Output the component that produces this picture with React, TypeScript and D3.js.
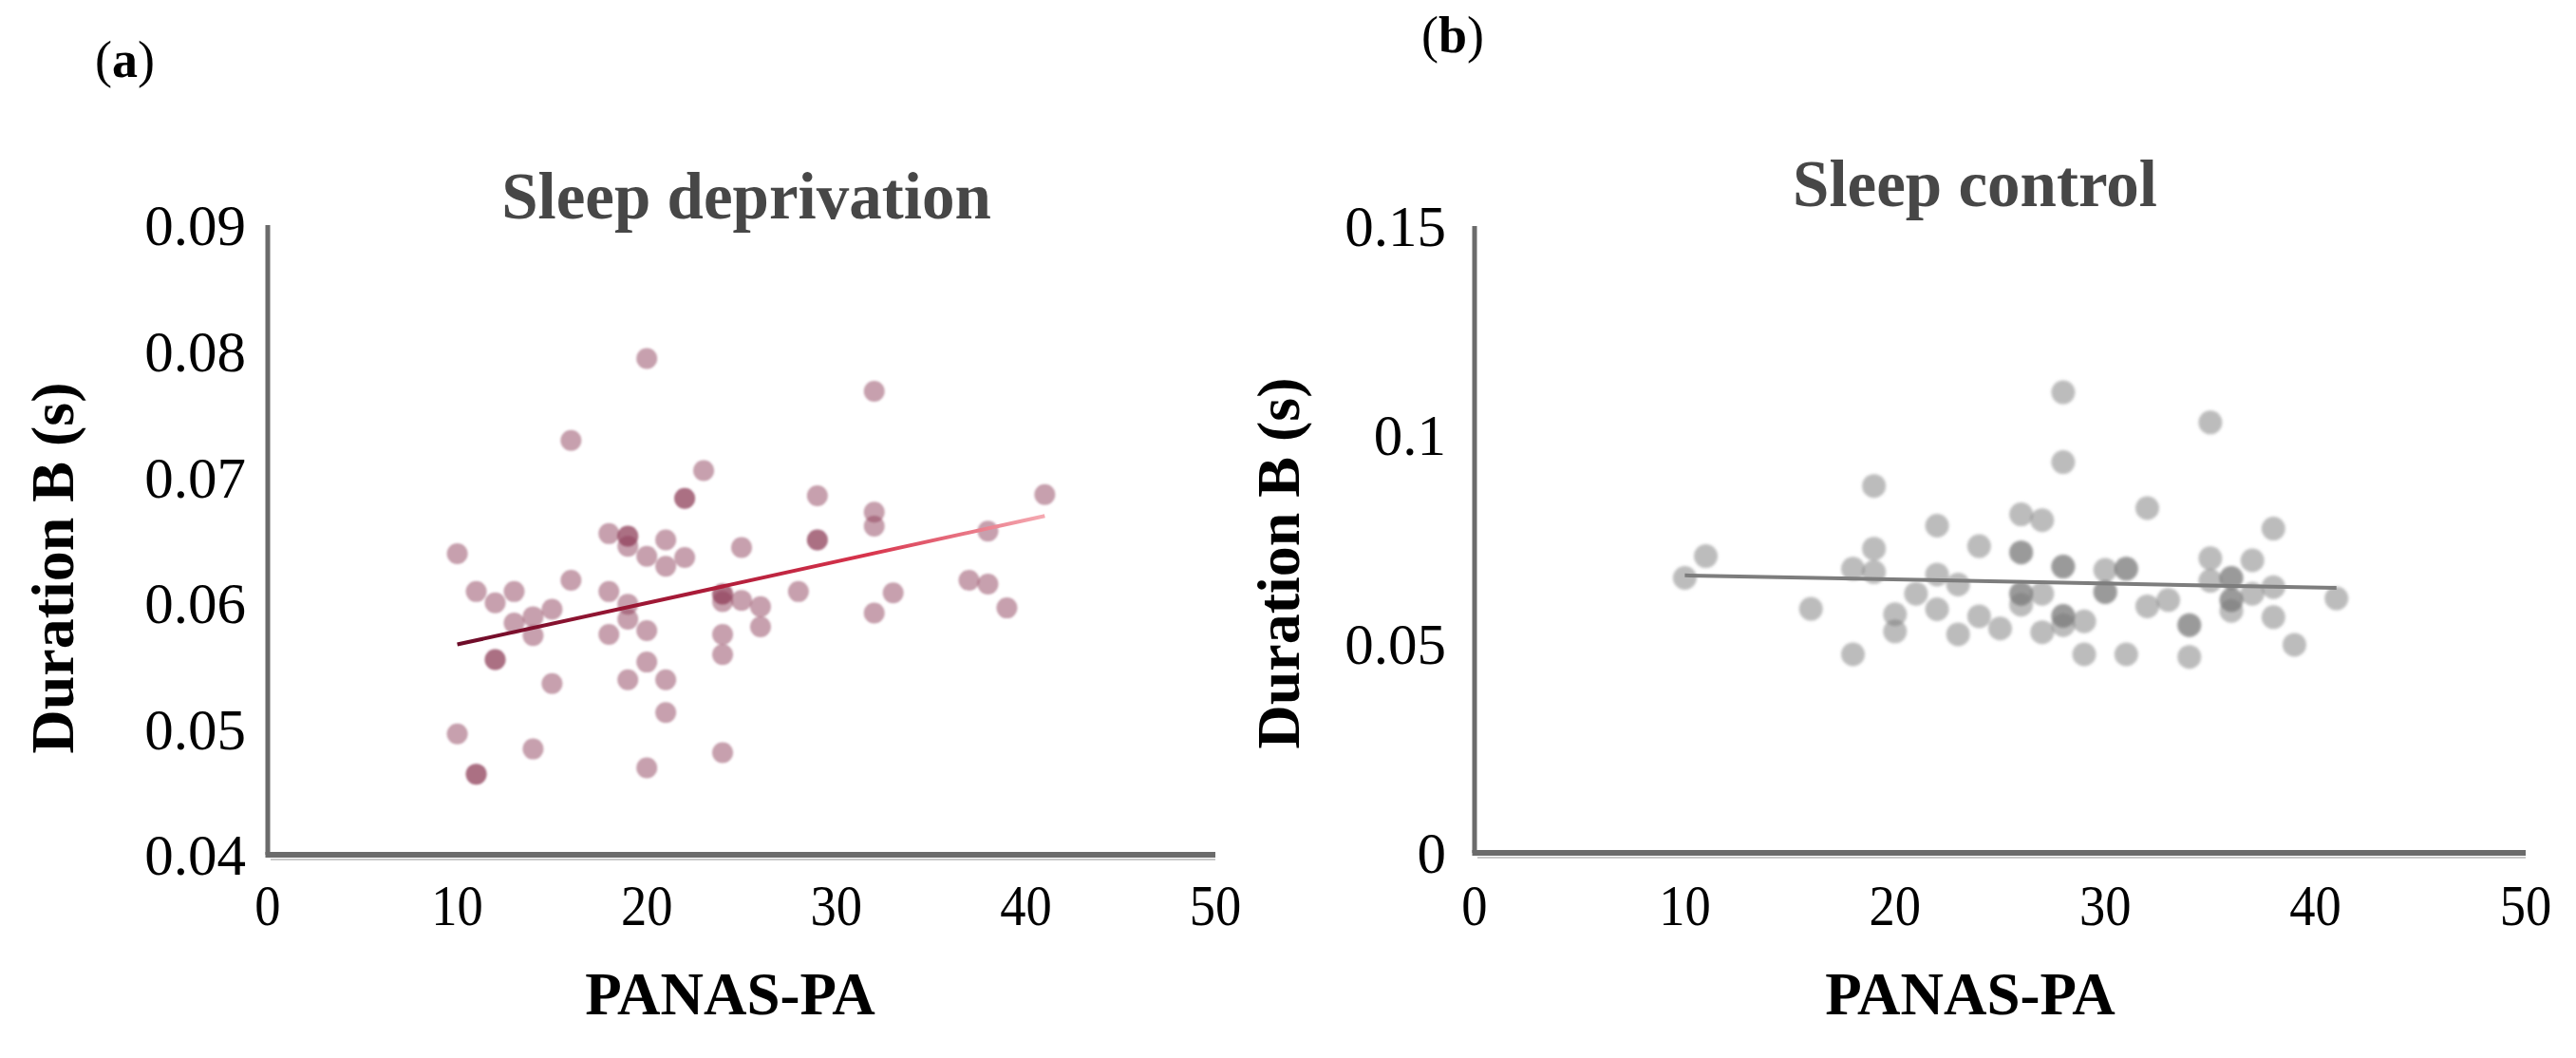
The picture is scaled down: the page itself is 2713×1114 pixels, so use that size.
import React from "react";
import * as d3 from "d3";

// ---- data ----
const xTicks = [0, 10, 20, 30, 40, 50];
const yTicksDep = [0.04, 0.05, 0.06, 0.07, 0.08, 0.09];
const yTicksCtl = [0, 0.05, 0.1, 0.15];
const yTickLabelsCtl = ["0", "0.05", "0.1", "0.15"];

// (a) sleep deprivation: PANAS-PA vs duration B
const depX = [
    20, 16, 23, 22, 22, 10, 18, 19, 19, 19, 21, 20, 21, 22, 25, 11, 12, 13, 16, 18,
    13, 14, 15, 14, 19, 19, 18, 20, 24, 24, 24, 25, 26, 26, 28, 24, 24, 12, 12, 20,
    15, 19, 21, 21, 10, 14, 24, 11, 11, 20, 32, 29, 32, 32, 29, 29, 41, 38, 33, 32,
    37, 38, 39,
];
const depY = [
    0.0794, 0.0729, 0.0705, 0.0683, 0.0683, 0.0639, 0.0655, 0.0653, 0.0653, 0.0645,
    0.065, 0.0637, 0.0629, 0.0636, 0.0644, 0.0609, 0.06, 0.0609, 0.0618, 0.0609,
    0.0584, 0.0589, 0.0595, 0.0574, 0.0599, 0.0587, 0.0575, 0.0578, 0.0607, 0.0607,
    0.0601, 0.0602, 0.0597, 0.0581, 0.0609, 0.0575, 0.0559, 0.0555, 0.0555, 0.0553,
    0.0536, 0.0539, 0.0539, 0.0513, 0.0496, 0.0484, 0.0481, 0.0464, 0.0464, 0.0469,
    0.0768, 0.0685, 0.0672, 0.0661, 0.065, 0.065, 0.0686, 0.0657, 0.0608, 0.0592,
    0.0618, 0.0615, 0.0596,
];
const depFitX = [10, 41];
const depFitY = [0.0567, 0.0669];

// (b) sleep control
const ctlX = [
    10, 11, 19, 19, 18, 19, 16, 18, 22, 24, 22, 23, 21, 22, 20, 20, 24, 23, 25,
    28, 28, 35, 26, 27, 32, 38, 26, 26, 28, 28, 30, 31, 31, 35, 37, 35, 36, 36,
    38, 26, 26, 26, 27, 30, 30, 32, 33, 36, 36, 36, 37, 38, 41, 28, 28, 28, 27,
    29, 29, 31, 34, 34, 34, 39,
];
const ctlY = [
    0.0658, 0.071, 0.0878, 0.0728, 0.068, 0.0672, 0.0584, 0.0475, 0.0783, 0.0734,
    0.0666, 0.0642, 0.062, 0.0583, 0.0571, 0.053, 0.0566, 0.0523, 0.0537,
    0.1102, 0.0935, 0.103, 0.081, 0.0796, 0.0825, 0.0776, 0.0719, 0.0719, 0.0685,
    0.0685, 0.0677, 0.068, 0.068, 0.0705, 0.07, 0.0651, 0.0658, 0.0658, 0.0636,
    0.062, 0.062, 0.0594, 0.062, 0.0624, 0.0624, 0.059, 0.0605, 0.0605, 0.0605,
    0.0579, 0.062, 0.0564, 0.0609, 0.0567, 0.0567, 0.0545, 0.0528, 0.0554, 0.0475,
    0.0475, 0.0545, 0.0545, 0.0469, 0.0498,
];
const ctlFitX = [10, 41];
const ctlFitY = [0.0664, 0.0634];

const FONT = "'Liberation Serif', 'Times New Roman', serif";
const AXIS = "#6b6b6b";

type PanelProps = {
    letter: string;
    letterX: number;
    letterY: number;
    title: string;
    titleX: number;
    titleY: number;
    xRange: [number, number];
    yDomain: [number, number];
    yRange: [number, number];
    yTicks: number[];
    yLabels: string[];
    yLabelRight: number;
    yTitleX: number;
    yTitleY: number;
    xTitleX: number;
    xs: number[];
    ys: number[];
    fitX: number[];
    fitY: number[];
    dotFill: string;
    dotOpacity: number;
    dotR: number;
    lineStroke: string;
    blurId: string;
};

const Panel: React.FC<PanelProps> = (p) => {
    const x = d3.scaleLinear().domain([0, 50]).range(p.xRange);
    const y = d3.scaleLinear().domain(p.yDomain).range(p.yRange);
    const pts = p.xs.map((v, i) => ({ x: v, y: p.ys[i] }));
    const fit = p.fitX.map((v, i) => ({ x: v, y: p.fitY[i] }));
    const line = d3
        .line<{ x: number; y: number }>()
        .x((d) => x(d.x))
        .y((d) => y(d.y));
    const x0 = p.xRange[0];
    const yBottom = p.yRange[0];
    const yTop = p.yRange[1];

    return (
        <g>
            {/* panel letter */}
            <text x={p.letterX} y={p.letterY} fontFamily={FONT} fontSize={54} fill="#000">
                (<tspan fontWeight="bold">{p.letter}</tspan>)
            </text>

            {/* title */}
            <text
                x={p.titleX}
                y={p.titleY}
                textAnchor="middle"
                fontFamily={FONT}
                fontWeight="bold"
                fontSize={69}
                fill="#474747"
            >
                {p.title}
            </text>

            {/* points */}
            <g filter={`url(#${p.blurId})`}>
                {pts.map((d, i) => (
                    <circle
                        key={i}
                        cx={x(d.x)}
                        cy={y(d.y)}
                        r={p.dotR}
                        fill={p.dotFill}
                        fillOpacity={p.dotOpacity}
                    />
                ))}
            </g>

            {/* fitted line */}
            <path d={line(fit) || ""} fill="none" stroke={p.lineStroke} strokeWidth={4} />

            {/* axes */}
            <line x1={x0} y1={yTop} x2={x0} y2={yBottom} stroke={AXIS} strokeWidth={5} />
            <line x1={x0 - 2.5} y1={yBottom} x2={p.xRange[1]} y2={yBottom} stroke={AXIS} strokeWidth={6} />
            <line x1={x0 + 3} y1={yBottom + 5} x2={p.xRange[1]} y2={yBottom + 5} stroke="#c8c8c8" strokeWidth={2} />

            {/* y tick labels */}
            {p.yTicks.map((t, i) => (
                <text
                    key={t}
                    x={p.yLabelRight}
                    y={y(t)}
                    dy="0.35em"
                    textAnchor="end"
                    fontFamily={FONT}
                    fontSize={61}
                    fill="#000"
                >
                    {p.yLabels[i]}
                </text>
            ))}

            {/* x tick labels */}
            {xTicks.map((t) => (
                <text
                    key={t}
                    transform={`translate(${x(t)},974) scale(0.88,1)`}
                    textAnchor="middle"
                    fontFamily={FONT}
                    fontSize={62}
                    fill="#000"
                >
                    {t}
                </text>
            ))}

            {/* axis titles */}
            <text
                x={p.xTitleX}
                y={1068}
                textAnchor="middle"
                fontFamily={FONT}
                fontWeight="bold"
                fontSize={63}
                fill="#000"
            >
                PANAS-PA
            </text>
            <text
                transform={`translate(${p.yTitleX},${p.yTitleY}) rotate(-90)`}
                textAnchor="middle"
                fontFamily={FONT}
                fontWeight="bold"
                fontSize={64}
                fill="#000"
            >
                Duration B (s)
            </text>
        </g>
    );
};

export default function App() {
    const depLine = d3.scaleLinear().domain([0, 50]).range([282, 1280]);
    return (
        <svg
            width={2713}
            height={1114}
            style={{ position: "absolute", left: 0, top: 0, background: "#fff" }}
        >
            <defs>
                <filter id="blurA" x="-5%" y="-5%" width="110%" height="110%">
                    <feGaussianBlur stdDeviation={0.9} />
                </filter>
                <filter id="blurB" x="-5%" y="-5%" width="110%" height="110%">
                    <feGaussianBlur stdDeviation={1.6} />
                </filter>
                <linearGradient
                    id="depFit"
                    gradientUnits="userSpaceOnUse"
                    x1={depLine(depFitX[0])}
                    x2={depLine(depFitX[1])}
                    y1={0}
                    y2={0}
                >
                    <stop offset="0%" stopColor="#6c0b28" />
                    <stop offset="45%" stopColor="#b11d3a" />
                    <stop offset="70%" stopColor="#d8344c" />
                    <stop offset="100%" stopColor="#f5aab2" />
                </linearGradient>
            </defs>
            <rect width={2713} height={1114} fill="#fff" />

            <Panel
                letter="a"
                letterX={100}
                letterY={81}
                title="Sleep deprivation"
                titleX={786}
                titleY={230}
                xRange={[282, 1280]}
                yDomain={[0.04, 0.09]}
                yRange={[900, 237]}
                yTicks={yTicksDep}
                yLabels={yTicksDep.map((t) => t.toFixed(2))}
                yLabelRight={259}
                yTitleX={77}
                yTitleY={598}
                xTitleX={769}
                xs={depX}
                ys={depY}
                fitX={depFitX}
                fitY={depFitY}
                dotFill="#8f3f5c"
                dotOpacity={0.5}
                dotR={11}
                lineStroke="url(#depFit)"
                blurId="blurA"
            />

            <Panel
                letter="b"
                letterX={1497}
                letterY={55}
                title="Sleep control"
                titleX={2080}
                titleY={217}
                xRange={[1553, 2660]}
                yDomain={[0, 0.15]}
                yRange={[898, 238]}
                yTicks={yTicksCtl}
                yLabels={yTickLabelsCtl}
                yLabelRight={1523}
                yTitleX={1368}
                yTitleY={593}
                xTitleX={2075}
                xs={ctlX}
                ys={ctlY}
                fitX={ctlFitX}
                fitY={ctlFitY}
                dotFill="#7a7a7a"
                dotOpacity={0.5}
                dotR={12.5}
                lineStroke="#7d7d7d"
                blurId="blurB"
            />
        </svg>
    );
}
